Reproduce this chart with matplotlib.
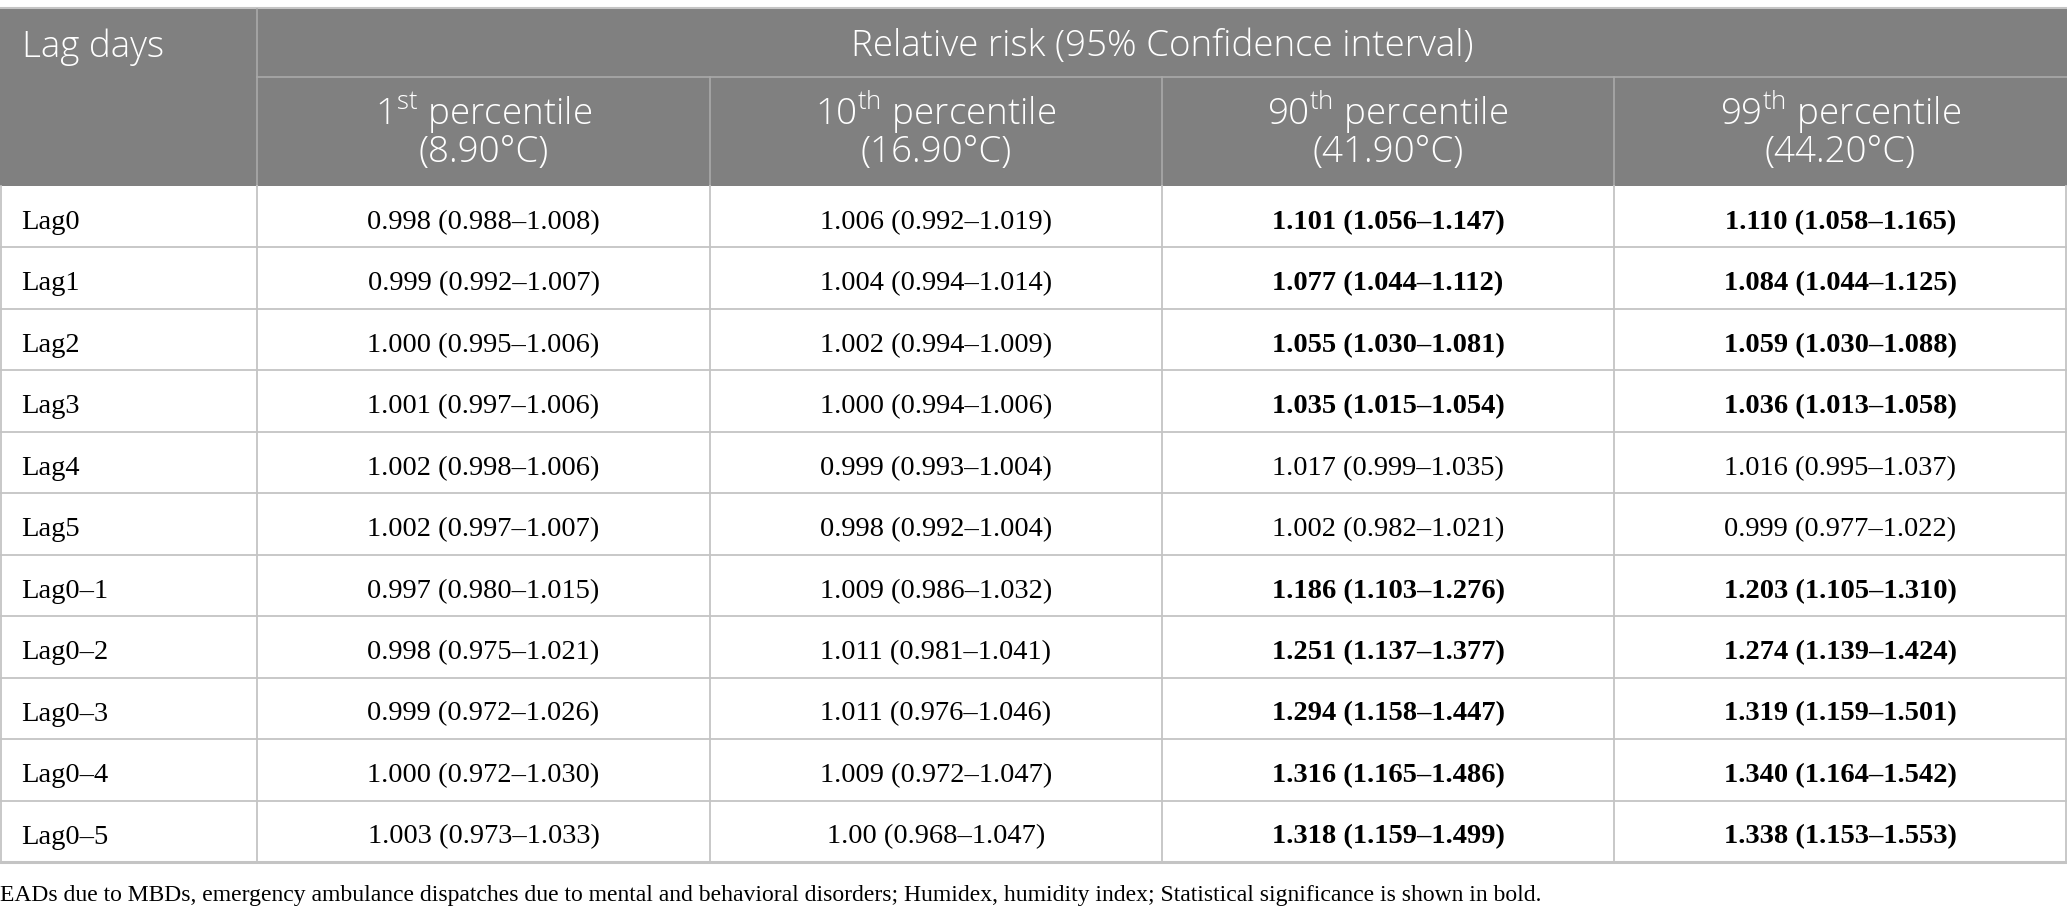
import numpy as np
import matplotlib
matplotlib.use("Agg")
import matplotlib.pyplot as plt

plt.rcParams['mathtext.fontset'] = 'custom'
plt.rcParams['mathtext.rm'] = 'Open Sans:light'

# Table content
lag_days = ["Lag0", "Lag1", "Lag2", "Lag3", "Lag4", "Lag5",
            "Lag0\u20131", "Lag0\u20132", "Lag0\u20133", "Lag0\u20134", "Lag0\u20135"]
pct_labels = ["1$^{\\mathrm{st}}$ percentile", "10$^{\\mathrm{th}}$ percentile",
              "90$^{\\mathrm{th}}$ percentile", "99$^{\\mathrm{th}}$ percentile"]
pct_temps = ["(8.90\u00b0C)", "(16.90\u00b0C)", "(41.90\u00b0C)", "(44.20\u00b0C)"]

p1 = ["0.998 (0.988\u20131.008)", "0.999 (0.992\u20131.007)", "1.000 (0.995\u20131.006)",
      "1.001 (0.997\u20131.006)", "1.002 (0.998\u20131.006)", "1.002 (0.997\u20131.007)",
      "0.997 (0.980\u20131.015)", "0.998 (0.975\u20131.021)", "0.999 (0.972\u20131.026)",
      "1.000 (0.972\u20131.030)", "1.003 (0.973\u20131.033)"]
p10 = ["1.006 (0.992\u20131.019)", "1.004 (0.994\u20131.014)", "1.002 (0.994\u20131.009)",
       "1.000 (0.994\u20131.006)", "0.999 (0.993\u20131.004)", "0.998 (0.992\u20131.004)",
       "1.009 (0.986\u20131.032)", "1.011 (0.981\u20131.041)", "1.011 (0.976\u20131.046)",
       "1.009 (0.972\u20131.047)", "1.00 (0.968\u20131.047)"]
p90 = ["1.101 (1.056\u20131.147)", "1.077 (1.044\u20131.112)", "1.055 (1.030\u20131.081)",
       "1.035 (1.015\u20131.054)", "1.017 (0.999\u20131.035)", "1.002 (0.982\u20131.021)",
       "1.186 (1.103\u20131.276)", "1.251 (1.137\u20131.377)", "1.294 (1.158\u20131.447)",
       "1.316 (1.165\u20131.486)", "1.318 (1.159\u20131.499)"]
p99 = ["1.110 (1.058\u20131.165)", "1.084 (1.044\u20131.125)", "1.059 (1.030\u20131.088)",
       "1.036 (1.013\u20131.058)", "1.016 (0.995\u20131.037)", "0.999 (0.977\u20131.022)",
       "1.203 (1.105\u20131.310)", "1.274 (1.139\u20131.424)", "1.319 (1.159\u20131.501)",
       "1.340 (1.164\u20131.542)", "1.338 (1.153\u20131.553)"]
# significant (bold) flags for the 90th and 99th columns
sig90 = [1, 1, 1, 1, 0, 0, 1, 1, 1, 1, 1]
sig99 = [1, 1, 1, 1, 0, 0, 1, 1, 1, 1, 1]

title = "Relative risk (95% Confidence interval)"
first_col = "Lag days"
footnote = ("EADs due to MBDs, emergency ambulance dispatches due to mental and behavioral "
            "disorders; Humidex, humidity index; Statistical significance is shown in bold.")

# Layout (pixels)
W, H = 2067, 918
col_edges = [0, 257, 710, 1162, 1614, 2067]
top, mid, head_bot = 9, 77, 186
row_h = 61.45
n_rows = len(lag_days)
bottom = head_bot + n_rows * row_h

header_bg = "#808080"
header_line = "#a9a9a9"
grid = "#c4c4c4"
sans = "Open Sans"
serif = "Liberation Serif"
hsize = 26.5
bsize = 20.5

fig = plt.figure(figsize=(W / 100, H / 100), dpi=100)
ax = fig.add_axes([0, 0, 1, 1])
ax.set_xlim(0, W)
ax.set_ylim(H, 0)
ax.axis("off")

# header background
ax.add_patch(plt.Rectangle((0, top), W, head_bot - top, color=header_bg, lw=0))
ax.plot([0, W], [top - 1, top - 1], color=grid, lw=1.5)
ax.plot([col_edges[1], W], [mid, mid], color=header_line, lw=1.2)
ax.plot([col_edges[1], col_edges[1]], [top, head_bot], color=header_line, lw=1.2)
for x in col_edges[2:-1]:
    ax.plot([x, x], [mid, head_bot], color=header_line, lw=1.2)

# header text
hkw = dict(color="white", fontsize=hsize, family=sans, fontweight="light")
ax.text(22, 47, first_col, va="center", ha="left", **hkw)
ax.text((col_edges[1] + W) / 2, 47, title, va="center", ha="center", **hkw)
for i, (lab, tmp) in enumerate(zip(pct_labels, pct_temps)):
    cx = (col_edges[i + 1] + col_edges[i + 2]) / 2
    ax.text(cx, 125, lab, va="baseline", ha="center", **hkw)
    ax.text(cx, 162, tmp, va="baseline", ha="center", **hkw)

# body grid
for r in range(1, n_rows):
    y = head_bot + r * row_h
    ax.plot([0, W], [y, y], color=grid, lw=1.3)
ax.plot([0, W], [bottom, bottom], color=grid, lw=2.2)
for x in col_edges[:-1]:
    ax.plot([max(x, 0.7), max(x, 0.7)], [head_bot, bottom], color=grid, lw=1.3)
ax.plot([W - 0.7, W - 0.7], [head_bot, bottom], color=grid, lw=1.3)

# body text
columns = [p1, p10, p90, p99]
bold_flags = [[0] * n_rows, [0] * n_rows, sig90, sig99]
for r in range(n_rows):
    base = head_bot + r * row_h + 43
    ax.text(21, base, lag_days[r], fontsize=bsize, family=serif, va="baseline", ha="left")
    for c, col in enumerate(columns):
        cx = (col_edges[c + 1] + col_edges[c + 2]) / 2
        ax.text(cx, base, col[r], fontsize=bsize, family=serif, va="baseline", ha="center",
                fontweight="bold" if bold_flags[c][r] else "normal")

ax.text(0, 901, footnote, fontsize=17, family=serif, va="baseline", ha="left")

fig.savefig("out.png", dpi=100)
